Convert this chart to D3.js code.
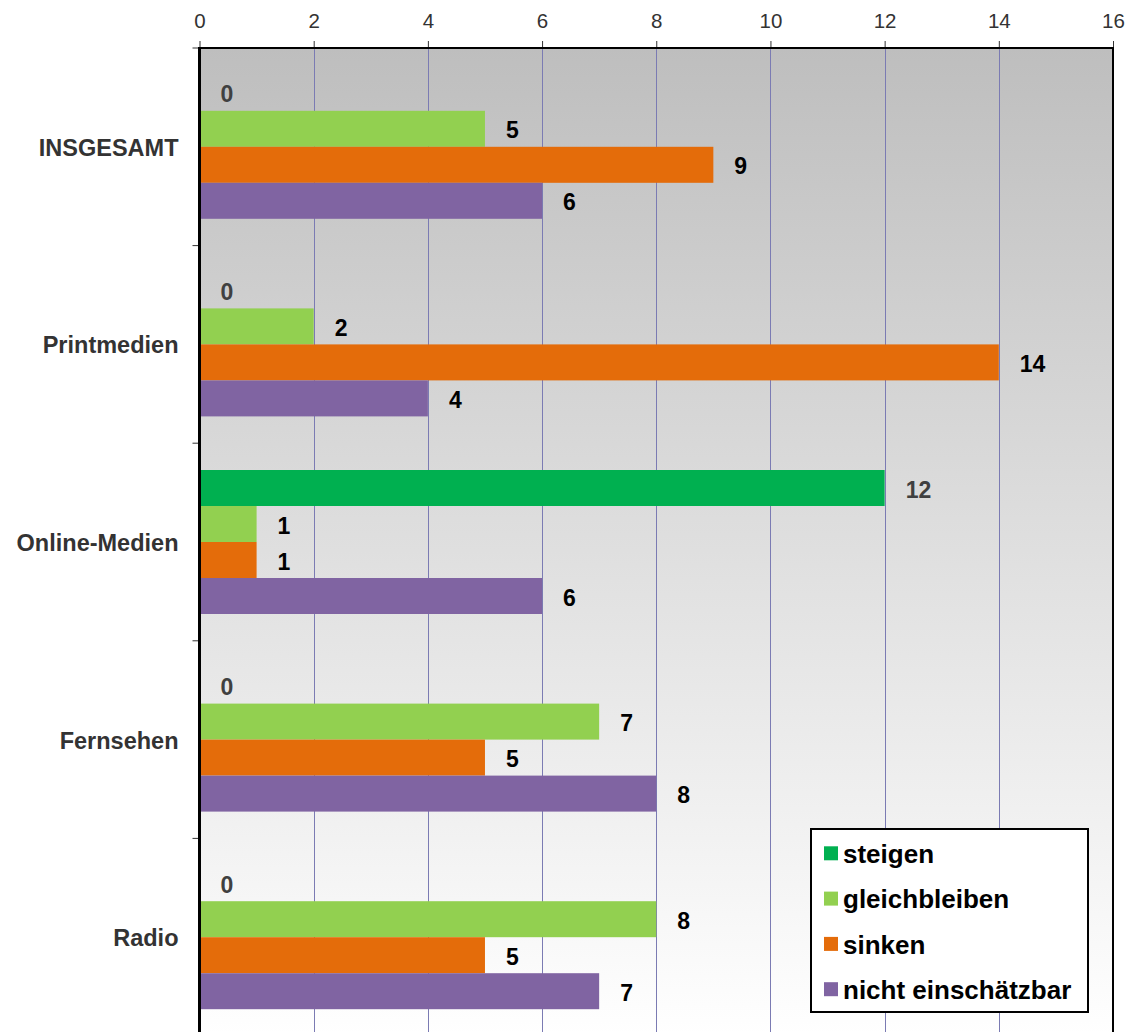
<!DOCTYPE html>
<html>
<head>
<meta charset="utf-8">
<script src="https://cdn.jsdelivr.net/npm/d3@7"></script>
<style>
  html, body { margin: 0; padding: 0; background: #ffffff; }
  svg { display: block; }
  text { font-family: "Liberation Sans", Arial, Helvetica, sans-serif; }
</style>
</head>
<body>
<svg id="chart" width="1136" height="1032"></svg>
<script>
// Media categories (top to bottom)
const categories = ["INSGESAMT", "Printmedien", "Online-Medien", "Fernsehen", "Radio"];
// Answer series
const seriesNames = ["steigen", "gleichbleiben", "sinken", "nicht einschätzbar"];
const seriesColors = ["#00b050", "#92d050", "#e46c0a", "#8064a2"];
const labelColors = ["#404040", "#000000", "#000000", "#000000"];
// Counts per category, one array per series
const steigen = [0, 0, 12, 0, 0];
const gleichbleiben = [5, 2, 1, 7, 8];
const sinken = [9, 14, 1, 5, 5];
const nichtEinschaetzbar = [6, 4, 6, 8, 7];
const xTicks = [0, 2, 4, 6, 8, 10, 12, 14, 16];

const seriesValues = [steigen, gleichbleiben, sinken, nichtEinschaetzbar];

const svg = d3.select("#chart");
const plotLeft = 199.5, plotRight = 1113, plotTop = 48, bandH = 197.6;
const plotBottom = plotTop + bandH * categories.length;

const x = d3.scaleLinear().domain([0, 16]).range([plotLeft, plotRight]);
const y = d3.scaleBand().domain(categories).range([plotTop, plotBottom]).padding(0);
const groupPad = (bandH - 144) / 2;
const ySub = d3.scaleBand().domain(seriesNames).range([groupPad, bandH - groupPad]).padding(0);

// Background gradient
const defs = svg.append("defs");
const grad = defs.append("linearGradient").attr("id", "bg").attr("x1", 0).attr("y1", 0).attr("x2", 0).attr("y2", 1);
grad.append("stop").attr("offset", "0%").attr("stop-color", "#bebebe");
grad.append("stop").attr("offset", "100%").attr("stop-color", "#ffffff");

svg.append("rect")
  .attr("x", plotLeft).attr("y", plotTop)
  .attr("width", plotRight - plotLeft).attr("height", plotBottom - plotTop)
  .attr("fill", "url(#bg)");

// Vertical gridlines
svg.append("g").selectAll("line")
  .data(xTicks.filter(d => d > 0 && d < 16))
  .join("line")
  .attr("x1", d => Math.round(x(d)) + 0.5).attr("x2", d => Math.round(x(d)) + 0.5)
  .attr("y1", plotTop).attr("y2", plotBottom)
  .attr("stroke", "#7b7bb3").attr("stroke-width", 1);

// Bars
const groups = svg.append("g").selectAll("g")
  .data(categories)
  .join("g")
  .attr("transform", d => `translate(0,${y(d)})`);

groups.each(function(cat, ci) {
  const g = d3.select(this);
  seriesNames.forEach((s, si) => {
    const v = seriesValues[si][ci];
    if (v > 0) {
      g.append("rect")
        .attr("x", x(0)).attr("y", ySub(s))
        .attr("width", x(v) - x(0)).attr("height", ySub.bandwidth())
        .attr("fill", seriesColors[si]);
    }
    g.append("text")
      .attr("x", x(v) + 21)
      .attr("y", ySub(s) + ySub.bandwidth() / 2)
      .attr("dy", "0.42em")
      .attr("font-size", 23).attr("font-weight", "bold")
      .attr("fill", labelColors[si])
      .text(v);
  });
});

// Top axis
const xAxis = d3.axisTop(x).tickValues(xTicks).tickSize(7).tickPadding(13);
const ax = svg.append("g").attr("transform", `translate(0,${plotTop})`).call(xAxis);
ax.select(".domain").remove();
ax.selectAll(".tick line").attr("stroke", "#333");
ax.selectAll(".tick text").attr("font-size", 20.5).attr("fill", "#333")
  .attr("font-family", "'Liberation Sans', Arial, sans-serif");

// Plot border: top, right
svg.append("line").attr("x1", plotLeft - 1).attr("x2", plotRight + 1).attr("y1", plotTop).attr("y2", plotTop)
  .attr("stroke", "#000").attr("stroke-width", 2);
svg.append("line").attr("x1", plotRight).attr("x2", plotRight).attr("y1", plotTop).attr("y2", plotBottom)
  .attr("stroke", "#000").attr("stroke-width", 2);

// Left category axis
const yAxis = d3.axisLeft(y).tickSize(0).tickPadding(21);
const ay = svg.append("g").attr("transform", `translate(${plotLeft},0)`).call(yAxis);
ay.select(".domain").remove();
ay.selectAll(".tick text").attr("font-size", 23.5).attr("font-weight", "bold").attr("fill", "#333")
  .attr("dy", "0.38em")
  .attr("font-family", "'Liberation Sans', Arial, sans-serif");

// Category boundary ticks
svg.append("g").selectAll("line")
  .data(categories.slice(1))
  .join("line")
  .attr("x1", plotLeft - 7).attr("x2", plotLeft)
  .attr("y1", d => y(d)).attr("y2", d => y(d))
  .attr("stroke", "#333").attr("stroke-width", 1);
svg.append("line").attr("x1", plotLeft - 7).attr("x2", plotLeft).attr("y1", plotTop).attr("y2", plotTop)
  .attr("stroke", "#333");

svg.append("line").attr("x1", plotLeft).attr("x2", plotLeft).attr("y1", plotTop - 1).attr("y2", plotBottom)
  .attr("stroke", "#000").attr("stroke-width", 3);

// Legend
const legend = svg.append("g").attr("transform", "translate(811,829)");
legend.append("rect").attr("width", 277).attr("height", 183)
  .attr("fill", "#ffffff").attr("stroke", "#000").attr("stroke-width", 2);
const items = legend.selectAll("g.item")
  .data(seriesNames)
  .join("g").attr("class", "item")
  .attr("transform", (d, i) => `translate(13,${24.3 + i * 45.3})`);
items.append("rect").attr("x", 0).attr("y", -7).attr("width", 14).attr("height", 14)
  .attr("fill", (d, i) => seriesColors[i]);
items.append("text").attr("x", 19).attr("y", 0).attr("dy", "0.38em")
  .attr("font-size", 26).attr("font-weight", "bold").attr("fill", "#000")
  .text(d => d);
</script>
</body>
</html>
